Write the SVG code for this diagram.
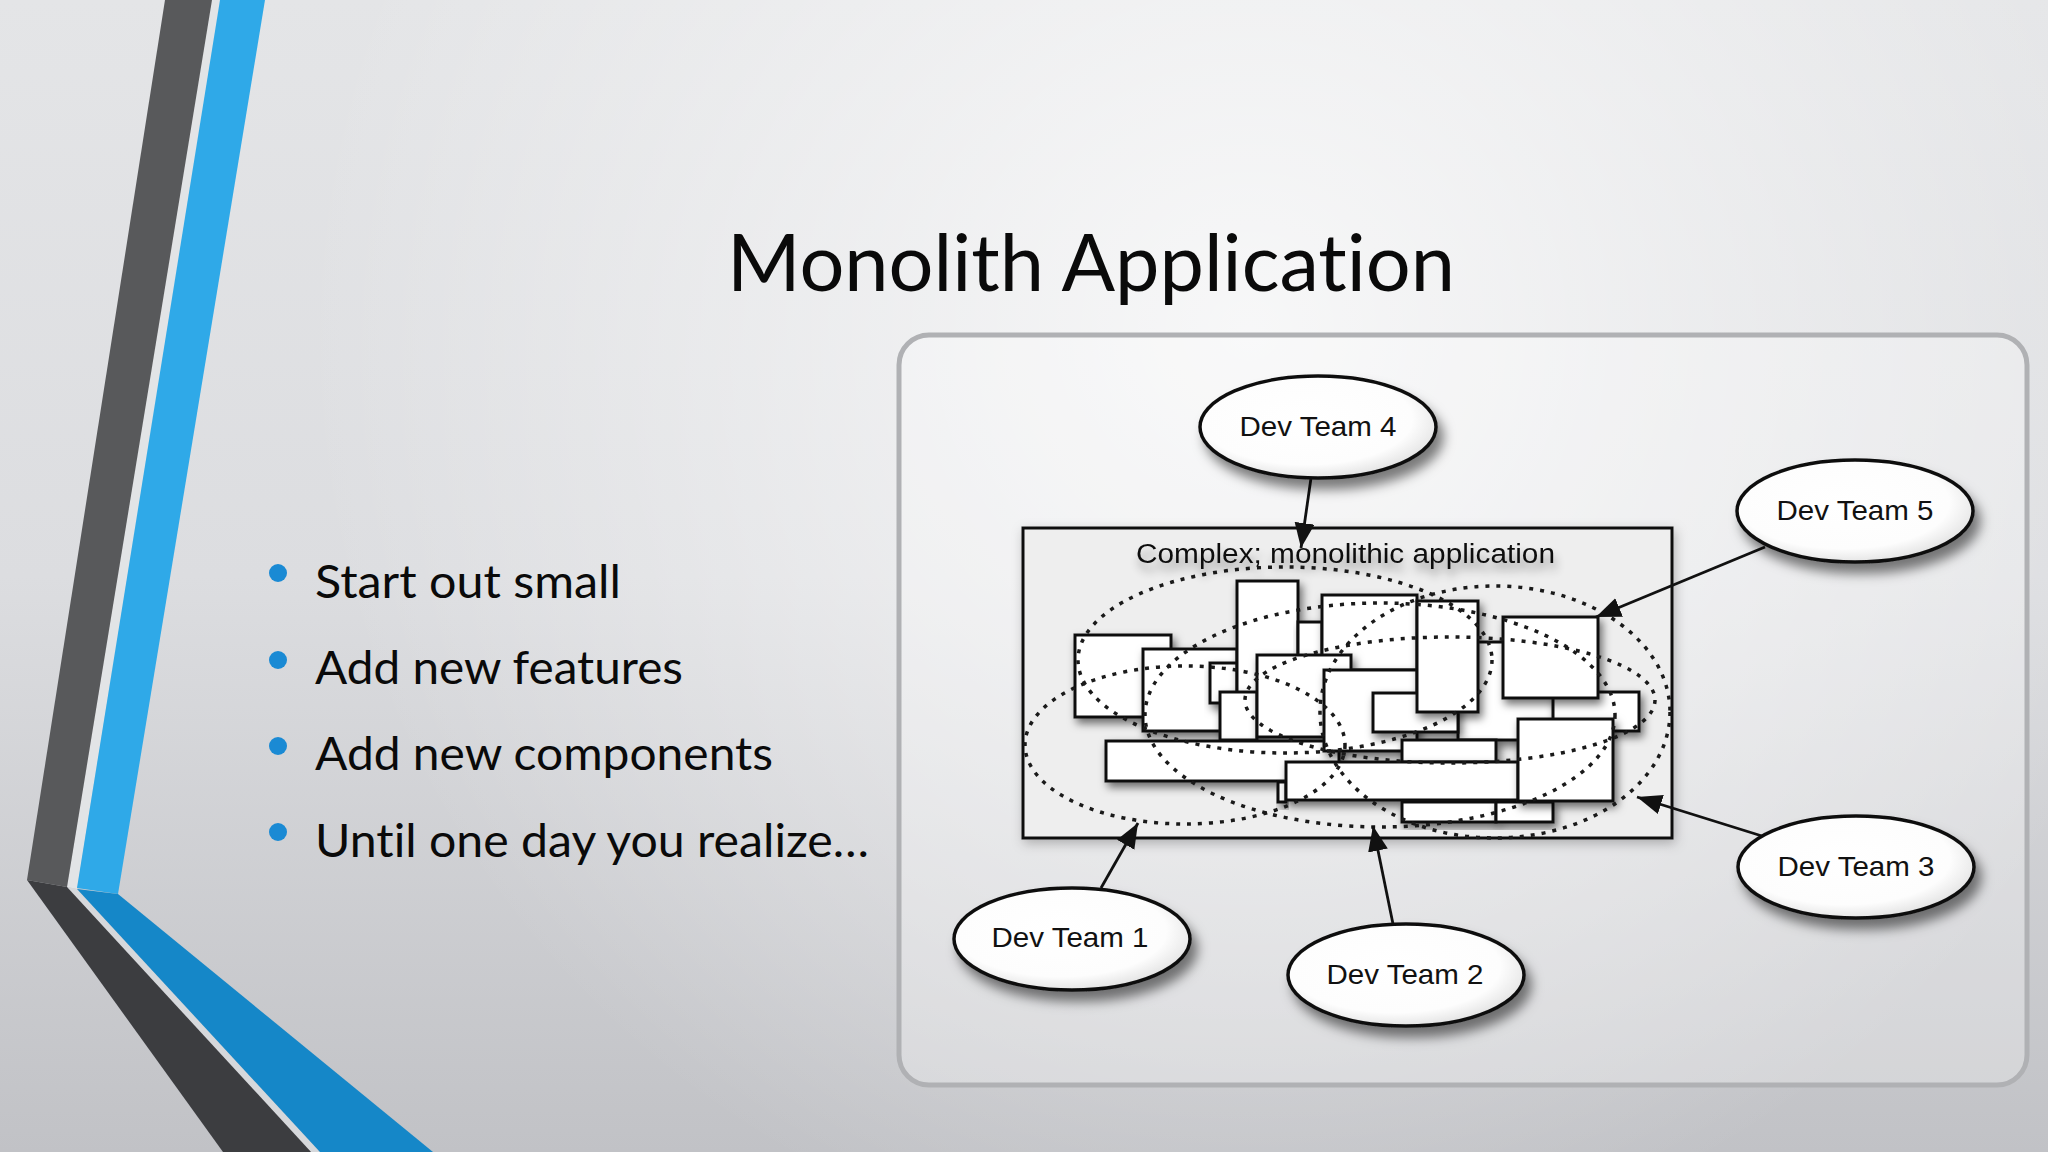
<svg xmlns="http://www.w3.org/2000/svg" width="2048" height="1152" viewBox="0 0 2048 1152">
<defs>
<linearGradient id="bgLin" x1="0" y1="0" x2="0" y2="1">
<stop offset="0" stop-color="#e4e5e7"/>
<stop offset="0.5" stop-color="#dcdde0"/>
<stop offset="1" stop-color="#c1c2c6"/>
</linearGradient>
<radialGradient id="bgHi" gradientUnits="userSpaceOnUse" cx="1250" cy="330" r="950">
<stop offset="0" stop-color="#ffffff" stop-opacity="0.75"/>
<stop offset="0.6" stop-color="#ffffff" stop-opacity="0.3"/>
<stop offset="1" stop-color="#ffffff" stop-opacity="0"/>
</radialGradient>
<radialGradient id="nodeFill" cx="0.45" cy="0.42" r="0.6">
<stop offset="0" stop-color="#ffffff"/>
<stop offset="0.75" stop-color="#fdfdfd"/>
<stop offset="1" stop-color="#e2e2e2"/>
</radialGradient>
<filter id="rsh" x="-20%" y="-20%" width="150%" height="160%">
<feDropShadow dx="3" dy="5" stdDeviation="4" flood-color="#000" flood-opacity="0.55"/>
</filter>
<filter id="nsh" x="-20%" y="-20%" width="150%" height="170%">
<feDropShadow dx="6" dy="10" stdDeviation="6" flood-color="#000" flood-opacity="0.5"/>
</filter>
<filter id="bsh" x="-5%" y="-5%" width="110%" height="115%">
<feDropShadow dx="2" dy="4" stdDeviation="6" flood-color="#000" flood-opacity="0.25"/>
</filter>
<filter id="tsh" x="-10%" y="-50%" width="120%" height="250%">
<feGaussianBlur in="SourceAlpha" stdDeviation="5"/>
<feOffset dx="2" dy="8" result="b"/>
<feComponentTransfer in="b" result="c"><feFuncA type="linear" slope="0.4"/></feComponentTransfer>
<feMerge><feMergeNode in="c"/><feMergeNode in="SourceGraphic"/></feMerge>
</filter>
<marker id="ah" markerUnits="userSpaceOnUse" markerWidth="28" markerHeight="22" refX="25" refY="10" orient="auto">
<path d="M0,0 L25,10 L0,20 z" fill="#111"/>
</marker>
</defs>
<style>
.bullet-text{font-family:Lato,"Open Sans","Noto Sans",sans-serif;font-size:47px;fill:#0a0a0a;font-variant-ligatures:none;}
.title{font-family:Lato,"Open Sans","Noto Sans",sans-serif;font-size:79px;fill:#0a0a0a;font-variant-ligatures:none;}
.dot{fill:#1a8ad4;}
.box{fill:#ffffff;stroke:#111;stroke-width:3;filter:url(#rsh);}
.dotted{fill:none;stroke:#1a1a1a;stroke-width:3.5;stroke-dasharray:4 7;}
.team{fill:url(#nodeFill);stroke:#111;stroke-width:3.5;filter:url(#nsh);}
.label{font-family:"Liberation Sans",Arial,sans-serif;font-size:28px;fill:#111;text-anchor:middle;}
.conn{stroke:#111;stroke-width:2.8;fill:none;marker-end:url(#ah);}
</style>

<!-- background -->
<rect x="0" y="0" width="2048" height="1152" fill="url(#bgLin)"/>
<rect x="0" y="0" width="2048" height="1152" fill="url(#bgHi)"/>

<!-- decorative stripes -->
<g id="stripes">
<polygon points="212,0 220,0 77,889 67,887" fill="#e2e4e6"/>
<polygon points="67,887 77,889 320,1152 311,1152" fill="#d6d8db"/>
<polygon points="165,0 212,0 67,887 27,880" fill="#58595b"/>
<polygon points="220,0 265,0 118,894 77,888" fill="#2fa9e8"/>
<polygon points="27,880 67,887 311,1152 223,1152" fill="#3c3d40"/>
<polygon points="77,889 118,894 433,1152 320,1152" fill="#1587c8"/>
</g>

<!-- title -->
<text class="title" x="727" y="291" textLength="728" lengthAdjust="spacingAndGlyphs">Monolith Application</text>

<!-- bullets -->
<g id="bullets">
<circle class="dot" cx="278" cy="573" r="9"/>
<text class="bullet-text" x="315" y="598" textLength="306" lengthAdjust="spacingAndGlyphs">Start out small</text>
<circle class="dot" cx="278" cy="660" r="9"/>
<text class="bullet-text" x="315" y="684" textLength="368" lengthAdjust="spacingAndGlyphs">Add new features</text>
<circle class="dot" cx="278" cy="746" r="9"/>
<text class="bullet-text" x="315" y="770" textLength="458" lengthAdjust="spacingAndGlyphs">Add new components</text>
<circle class="dot" cx="278" cy="832" r="9"/>
<text class="bullet-text" x="315" y="857" textLength="554" lengthAdjust="spacingAndGlyphs">Until one day you realize…</text>
</g>

<!-- picture frame -->
<rect id="frame" x="899" y="335" width="1128" height="750" rx="30" fill="#ffffff" fill-opacity="0.28" stroke="#b0b1b4" stroke-width="5"/>

<!-- application box -->
<g id="app">
<rect x="1023" y="528" width="649" height="310" fill="#eeeeee" stroke="#111" stroke-width="3" filter="url(#bsh)"/>
<text x="1136" y="563" font-family="'Liberation Sans',Arial,sans-serif" font-size="27" fill="#111" textLength="419" lengthAdjust="spacingAndGlyphs" filter="url(#tsh)">Complex; monolithic application</text>
</g>

<!-- components -->
<g id="components">
<rect class="box" x="1458" y="642" width="96" height="98"/>
<rect class="box" x="1075" y="635" width="96" height="82"/>
<rect class="box" x="1143" y="649" width="94" height="82"/>
<rect class="box" x="1210" y="663" width="27" height="40"/>
<rect class="box" x="1237" y="581" width="61" height="112"/>
<rect class="box" x="1220" y="692" width="37" height="48"/>
<rect class="box" x="1298" y="622" width="24" height="40"/>
<rect class="box" x="1322" y="595" width="95" height="75"/>
<rect class="box" x="1257" y="655" width="94" height="82"/>
<rect class="box" x="1106" y="741" width="233" height="40"/>
<rect class="box" x="1324" y="670" width="93" height="81"/>
<rect class="box" x="1373" y="693" width="85" height="39"/>
<rect class="box" x="1417" y="601" width="61" height="111"/>
<rect class="box" x="1402" y="740" width="94" height="22"/>
<rect class="box" x="1278" y="782" width="8" height="20"/>
<rect class="box" x="1286" y="762" width="232" height="38"/>
<rect class="box" x="1402" y="802" width="94" height="20"/>
<rect class="box" x="1496" y="802" width="57" height="20"/>
<rect class="box" x="1553" y="692" width="86" height="39"/>
<rect class="box" x="1503" y="617" width="95" height="81"/>
<rect class="box" x="1518" y="719" width="95" height="82"/>
</g>

<!-- team areas (dotted) -->
<g id="areas">
<ellipse class="dotted" cx="1185" cy="745" rx="160" ry="79"/>
<ellipse class="dotted" cx="1380" cy="715" rx="235" ry="112"/>
<ellipse class="dotted" cx="1495" cy="712" rx="175" ry="126"/>
<ellipse class="dotted" cx="1285" cy="660" rx="207" ry="93"/>
<ellipse class="dotted" cx="1450" cy="700" rx="205" ry="63"/>
</g>

<!-- connectors -->
<g id="connectors">
<line class="conn" x1="1311" y1="478" x2="1301" y2="548"/>
<line class="conn" x1="1765" y1="547" x2="1596" y2="617"/>
<line class="conn" x1="1762" y1="836" x2="1637" y2="797"/>
<line class="conn" x1="1101" y1="888" x2="1138" y2="823"/>
<line class="conn" x1="1393" y1="924" x2="1373" y2="826"/>
</g>

<!-- team nodes -->
<g id="team4">
<ellipse class="team" cx="1318" cy="427" rx="118" ry="51"/>
<text class="label" x="1318" y="436" textLength="157" lengthAdjust="spacingAndGlyphs">Dev Team 4</text>
</g>
<g id="team5">
<ellipse class="team" cx="1855" cy="511" rx="118" ry="51"/>
<text class="label" x="1855" y="520" textLength="157" lengthAdjust="spacingAndGlyphs">Dev Team 5</text>
</g>
<g id="team3">
<ellipse class="team" cx="1856" cy="867" rx="118" ry="51"/>
<text class="label" x="1856" y="876" textLength="157" lengthAdjust="spacingAndGlyphs">Dev Team 3</text>
</g>
<g id="team1">
<ellipse class="team" cx="1072" cy="939" rx="118" ry="51"/>
<text class="label" x="1070" y="947" textLength="157" lengthAdjust="spacingAndGlyphs">Dev Team 1</text>
</g>
<g id="team2">
<ellipse class="team" cx="1406" cy="975" rx="118" ry="51"/>
<text class="label" x="1405" y="984" textLength="157" lengthAdjust="spacingAndGlyphs">Dev Team 2</text>
</g>
</svg>
